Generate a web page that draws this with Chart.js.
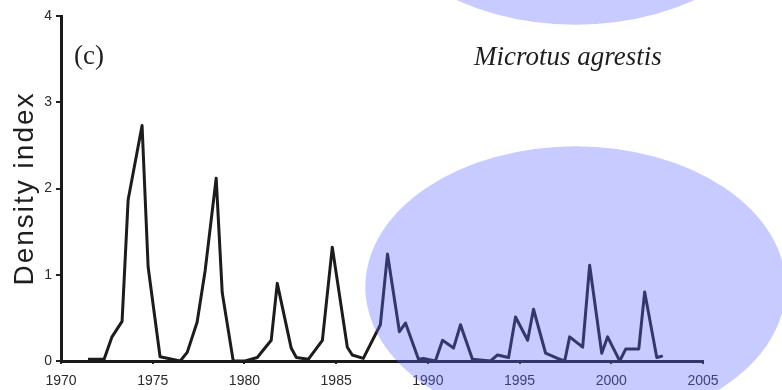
<!DOCTYPE html>
<html>
<head>
<meta charset="utf-8">
<script src="https://cdn.jsdelivr.net/npm/chart.js@4"></script>
<style>
  html, body { margin: 0; padding: 0; background: #fff; }
  #wrap { width: 782px; height: 390px; }
</style>
</head>
<body>
<div id="wrap"><canvas id="densityChart" width="782" height="390"></canvas></div>
<script>
// Muestreos de primavera y otoño (año decimal) y el índice de densidad
const sampleYears = [
    1971.47, 1972.35, 1972.78, 1973.33, 1973.66, 1974.42, 1974.75, 1975.40,
    1976.50, 1976.88, 1977.42, 1977.86, 1978.46, 1978.79, 1979.39, 1980.04,
    1980.70, 1981.46, 1981.79, 1982.55, 1982.83, 1983.48, 1984.25, 1984.79,
    1985.61, 1985.88, 1986.48, 1987.41, 1987.80, 1988.45, 1988.78, 1989.49,
    1989.76, 1990.41, 1990.80, 1991.40, 1991.78, 1992.43, 1993.42, 1993.80,
    1994.40, 1994.78, 1995.44, 1995.76, 1996.42, 1997.07, 1997.46, 1997.73,
    1998.44, 1998.82, 1999.48, 1999.80, 2000.46, 2000.79, 2001.50, 2001.82,
    2002.48, 2002.81,
];
const densityIndex = [
    0.02, 0.02, 0.28, 0.46, 1.87, 2.73, 1.09, 0.05,
    0.00, 0.10, 0.45, 1.05, 2.12, 0.79, 0.00, 0.00,
    0.04, 0.24, 0.90, 0.15, 0.04, 0.02, 0.24, 1.32,
    0.16, 0.07, 0.03, 0.42, 1.24, 0.34, 0.44, 0.02,
    0.03, 0.00, 0.24, 0.15, 0.42, 0.02, 0.00, 0.07,
    0.04, 0.51, 0.24, 0.60, 0.09, 0.03, 0.00, 0.28,
    0.16, 1.11, 0.09, 0.28, 0.00, 0.14, 0.14, 0.80,
    0.04, 0.06,
];
const yearTicks = [1970, 1975, 1980, 1985, 1990, 1995, 2000, 2005];
const densityTicks = [0, 1, 2, 3, 4];

// Elipses azules superpuestas (en unidades de los ejes)
const highlightEllipses = [
    { year: 1998.05, value: 0.86, rxYears: 11.46, ryValue: 1.63 },
    { year: 1998.05, value: 5.53, rxYears: 11.46, ryValue: 1.63 },
];

const overlayPlugin = {
    id: "overlay",
    afterDraw(chart) {
        const ctx = chart.ctx;
        const xs = chart.scales.x;
        const ys = chart.scales.y;
        const area = chart.chartArea;

        ctx.save();
        ctx.fillStyle = "#1e1e1e";
        ctx.textBaseline = "alphabetic";
        ctx.font = "27px 'Liberation Serif'";
        ctx.textAlign = "left";
        ctx.fillText("(c)", 74, 64);
        ctx.font = "italic 27px 'Liberation Serif'";
        ctx.fillText("Microtus agrestis", 474, 65);

        // Título del eje Y, un poco espaciado como en el original
        ctx.save();
        ctx.translate(33, (area.top + area.bottom) / 2);
        ctx.rotate(-Math.PI / 2);
        ctx.font = "28px 'Liberation Sans'";
        ctx.letterSpacing = "2px";
        ctx.textAlign = "center";
        ctx.fillStyle = "#1e1e1e";
        ctx.fillText("Density index", 0, 0);
        ctx.restore();

        ctx.fillStyle = "rgba(98, 106, 255, 0.35)";
        highlightEllipses.forEach((e) => {
            const cx = xs.getPixelForValue(e.year);
            const cy = ys.getPixelForValue(e.value);
            const rx = xs.getPixelForValue(e.year + e.rxYears) - cx;
            const ry = cy - ys.getPixelForValue(e.value + e.ryValue);
            ctx.beginPath();
            ctx.ellipse(cx, cy, rx, ry, 0, 0, Math.PI * 2);
            ctx.fill();
        });
        ctx.restore();
    },
};

const points = sampleYears.map((yr, i) => ({ x: yr, y: densityIndex[i] }));

new Chart(document.getElementById("densityChart").getContext("2d"), {
    type: "line",
    data: {
        datasets: [
            {
                data: points,
                borderColor: "#1c1c1c",
                borderWidth: 3,
                borderJoinStyle: "round",
                pointRadius: 0,
                tension: 0,
                fill: false,
            },
        ],
    },
    options: {
        responsive: false,
        animation: false,
        devicePixelRatio: 1,
        layout: { padding: { left: 0, right: 79, top: 16, bottom: 0 } },
        plugins: { legend: { display: false }, tooltip: { enabled: false } },
        scales: {
            x: {
                type: "linear",
                min: 1970,
                max: 2005,
                afterBuildTicks: (scale) => {
                    scale.ticks = yearTicks.map((v) => ({ value: v }));
                },
                afterFit: (scale) => {
                    scale.height = 29;
                },
                ticks: {
                    color: "#2a2a2a",
                    font: { family: "'Liberation Sans'", size: 14 },
                    padding: 9,
                    maxRotation: 0,
                    callback: (v) => String(v),
                },
                grid: {
                    drawOnChartArea: false,
                    drawTicks: true,
                    tickLength: 3,
                    color: "#222",
                    lineWidth: 2,
                },
                border: { display: true, color: "#1a1a1a", width: 3 },
            },
            y: {
                min: 0,
                max: 4,
                afterBuildTicks: (scale) => {
                    scale.ticks = densityTicks.map((v) => ({ value: v }));
                },
                afterFit: (scale) => {
                    scale.width = 61;
                },
                ticks: {
                    color: "#2a2a2a",
                    font: { family: "'Liberation Sans'", size: 14 },
                    padding: 4,
                },
                grid: {
                    drawOnChartArea: false,
                    drawTicks: true,
                    tickLength: 5,
                    color: "#222",
                    lineWidth: 2,
                },
                border: { display: true, color: "#1a1a1a", width: 3 },
            },
        },
    },
    plugins: [overlayPlugin],
});
</script>
</body>
</html>
